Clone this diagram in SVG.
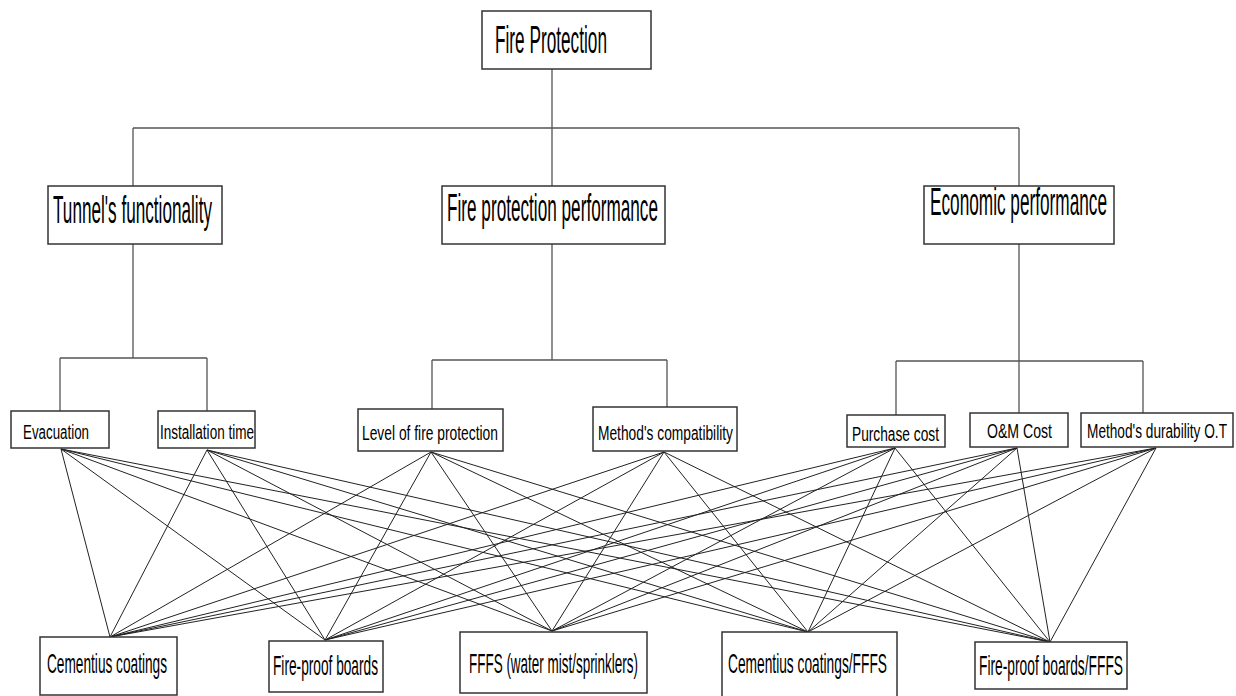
<svg xmlns="http://www.w3.org/2000/svg" width="1236" height="696" viewBox="0 0 1236 696">
<style>
.box{fill:#fff;stroke:#333;stroke-width:1.5}
.t{font-family:"Liberation Sans",Arial,sans-serif;fill:#000}
.l2{font-size:39px}
.l3{font-size:20px}
.l4{font-size:28px}
.h{stroke:#555;stroke-width:1.3;fill:none}
.x{stroke:#222;stroke-width:1;fill:none}
</style>
<rect width="1236" height="696" fill="#fff"/>
<g id="connectors">
<path class="h" d="M552 69V128M133 128H1019M133 128V186M552 128V186M1019 128V186"/>
<path class="h" d="M133 244V358M60 358H207M60 358V411M207 358V411"/>
<path class="h" d="M552 244V360M432 360H667M432 360V409M667 360V407"/>
<path class="h" d="M1019 244V361M896 361H1143M896 361V415M1019 361V413M1143 361V413"/>
<g class="x">
<path d="M61 449L110 637M61 449L325 640M61 449L552 631M61 449L808 632M61 449L1050 642"/>
<path d="M207 450L110 637M207 450L325 640M207 450L552 631M207 450L808 632M207 450L1050 642"/>
<path d="M431 452L110 637M431 452L325 640M431 452L552 631M431 452L808 632M431 452L1050 642"/>
<path d="M664 452L110 637M664 452L325 640M664 452L552 631M664 452L808 632M664 452L1050 642"/>
<path d="M895 448L110 637M895 448L325 640M895 448L552 631M895 448L808 632M895 448L1050 642"/>
<path d="M1017 448L110 637M1017 448L325 640M1017 448L552 631M1017 448L808 632M1017 448L1050 642"/>
<path d="M1156 448L110 637M1156 448L325 640M1156 448L552 631M1156 448L808 632M1156 448L1050 642"/>
</g>
</g>
<g id="fire-protection"><rect class="box" x="482" y="11" width="169" height="58"/><text class="t l2" x="495" y="53" font-size="38" textLength="112" lengthAdjust="spacingAndGlyphs">Fire Protection</text></g>
<g id="tunnel"><rect class="box" x="48" y="186" width="174" height="58"/><text class="t l2" x="53" y="223" textLength="159" lengthAdjust="spacingAndGlyphs">Tunnel's functionality</text></g>
<g id="fpp"><rect class="box" x="442" y="186" width="223" height="58"/><text class="t l2" x="447" y="221" textLength="211" lengthAdjust="spacingAndGlyphs">Fire protection performance</text></g>
<g id="econ"><rect class="box" x="924" y="186" width="190" height="58"/><text class="t l2" x="930" y="215" textLength="177" lengthAdjust="spacingAndGlyphs">Economic performance</text></g>
<g id="evacuation"><rect class="box" x="11" y="411" width="98" height="37"/><text class="t l3" x="23" y="439" textLength="66" lengthAdjust="spacingAndGlyphs">Evacuation</text></g>
<g id="installation"><rect class="box" x="158" y="411" width="97" height="37"/><text class="t l3" x="160" y="439" textLength="94" lengthAdjust="spacingAndGlyphs">Installation time</text></g>
<g id="level"><rect class="box" x="358" y="409" width="145" height="42"/><text class="t l3" x="362" y="440" textLength="136" lengthAdjust="spacingAndGlyphs">Level of fire protection</text></g>
<g id="compat"><rect class="box" x="593" y="407" width="144" height="44"/><text class="t l3" x="598" y="440" textLength="135" lengthAdjust="spacingAndGlyphs">Method's compatibility</text></g>
<g id="purchase"><rect class="box" x="847" y="415" width="98" height="32"/><text class="t l3" x="852" y="441" textLength="87" lengthAdjust="spacingAndGlyphs">Purchase cost</text></g>
<g id="om"><rect class="box" x="970" y="413" width="98" height="34"/><text class="t l3" x="987" y="438" textLength="65" lengthAdjust="spacingAndGlyphs">O&amp;M Cost</text></g>
<g id="durability"><rect class="box" x="1081" y="413" width="152" height="34"/><text class="t l3" x="1087" y="438" textLength="140" lengthAdjust="spacingAndGlyphs">Method's durability O.T</text></g>
<g id="cementius"><rect class="box" x="40" y="637" width="137" height="58"/><text class="t l4" x="47" y="673" textLength="120" lengthAdjust="spacingAndGlyphs">Cementius coatings</text></g>
<g id="boards"><rect class="box" x="269" y="641" width="114" height="51"/><text class="t l4" x="273" y="675" textLength="105" lengthAdjust="spacingAndGlyphs">Fire-proof boards</text></g>
<g id="fffs"><rect class="box" x="460" y="632" width="187" height="61"/><text class="t l4" x="469" y="673" textLength="169" lengthAdjust="spacingAndGlyphs">FFFS (water mist/sprinklers)</text></g>
<g id="cem-fffs"><rect class="box" x="722" y="632" width="175" height="70"/><text class="t l4" x="728" y="673" textLength="159" lengthAdjust="spacingAndGlyphs">Cementius coatings/FFFS</text></g>
<g id="boards-fffs"><rect class="box" x="975" y="642" width="152" height="47"/><text class="t l4" x="979" y="675" textLength="144" lengthAdjust="spacingAndGlyphs">Fire-proof boards/FFFS</text></g>
</svg>
